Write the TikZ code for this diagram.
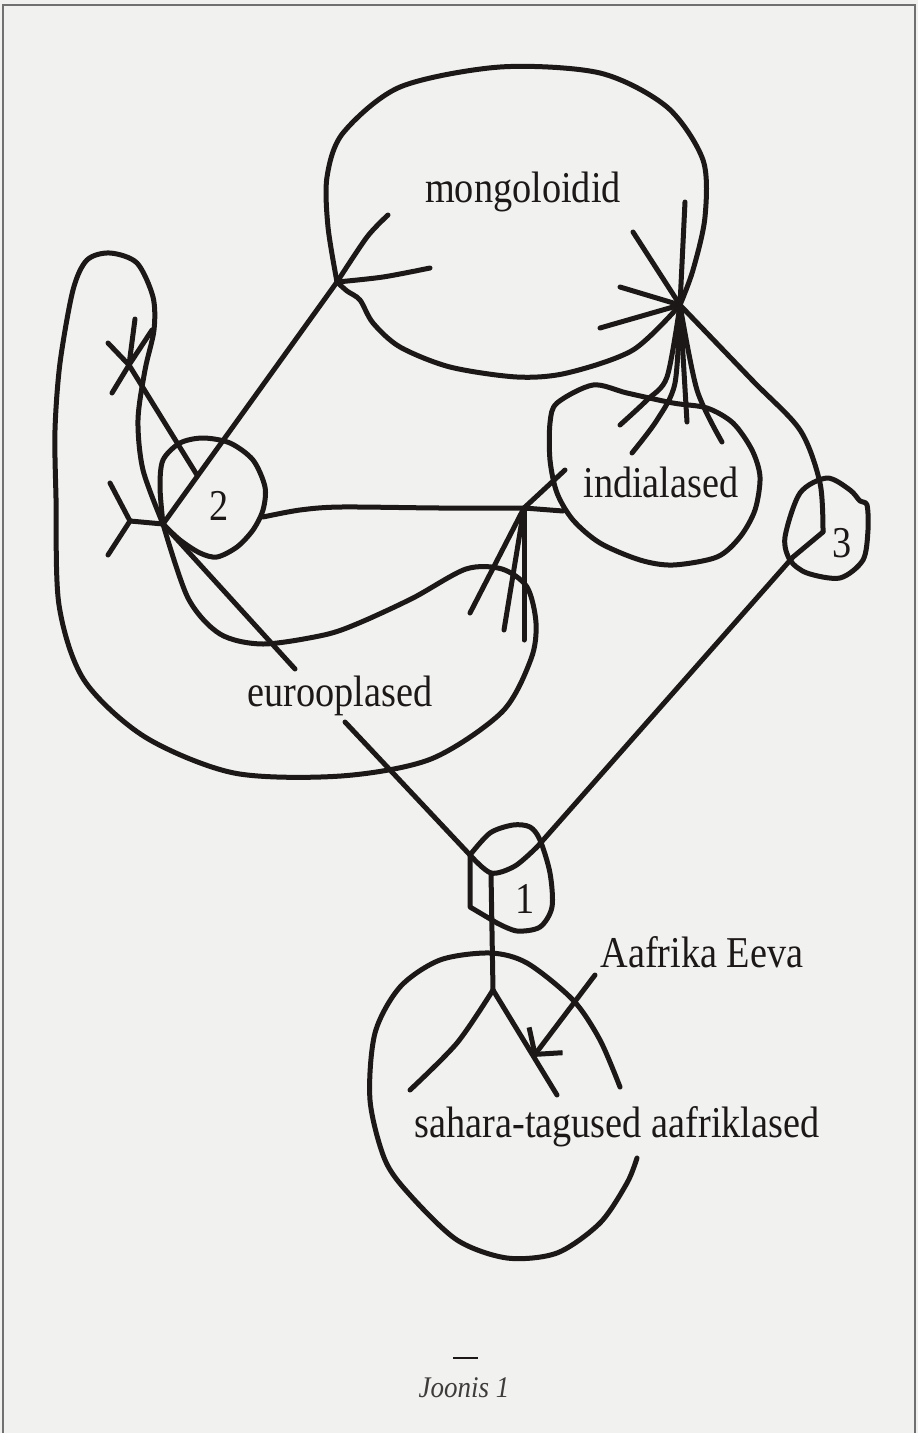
\documentclass[tikz,border=0pt]{standalone}
\usepackage{fontspec}
\setmainfont{Liberation Serif}
\usetikzlibrary{arrows.meta}
\definecolor{paper}{HTML}{F1F1EF}
\definecolor{ink}{HTML}{1C1818}
\definecolor{edge}{HTML}{707070}
\newcommand{\narrow}[1]{\scalebox{0.87}[1]{#1}}
\tikzset{
  stroke/.style={draw=ink, line width=5pt, line cap=round, line join=round},
  grouplabel/.style={anchor=base, inner sep=0pt, text=ink,
                     font=\fontsize{44}{48}\selectfont},
  captiontext/.style={anchor=base, inner sep=0pt, text=ink!85,
                      font=\itshape\fontsize{30}{34}\selectfont}
}

\begin{document}
\begin{tikzpicture}[x=1pt,y=-1pt]
  \fill[paper] (0,0) rectangle (918,1433);
  \useasboundingbox (0,0) rectangle (918,1433);
  \draw[edge,line width=2pt] (3,1433) -- (3,5) -- (915,5) -- (915,1433);

  % junctions
  \coordinate (mong) at (337,282);
  \coordinate (star) at (680,305);
  \coordinate (two) at (163,524);
  \coordinate (cross) at (129,365);
  \coordinate (forkY) at (130,521);
  \coordinate (ind) at (524,508);
  \coordinate (three) at (823,532);
  \coordinate (onecorner) at (470,855);
  \coordinate (one) at (491,873);
  \coordinate (fork) at (493,990);
  \coordinate (eurtail) at (345,722);
  \coordinate (eevatail) at (595,975);
  \coordinate (eevatip) at (533,1057);

  % labels
  \node[grouplabel] (mongtxt) at (523,202) {\narrow{mongoloidid}};
  \node[grouplabel] (indtxt) at (661,497) {\narrow{indialased}};
  \node[grouplabel] (eurtxt) at (340,706) {\narrow{eurooplased}};
  \node[grouplabel] (eevatxt) at (702,967) {\narrow{Aafrika Eeva}};
  \node[grouplabel] (afrtxt) at (617,1137) {\narrow{sahara-tagused aafriklased}};
  \node[grouplabel] (n1) at (525,913) {\narrow{1}};
  \node[grouplabel] (n2) at (219,520) {\narrow{2}};
  \node[grouplabel] (n3) at (842,557) {\narrow{3}};

  % mongoloidid loop
  \draw[stroke] plot[smooth] coordinates {(mong) (328,227) (327,177) (343,133) (400,87) (500,67) (600,73) (667,107) (703,160) (705,217) (693,270) (star)};
  \draw[stroke] plot[smooth] coordinates {(star) (633,350) (567,373) (517,377) (450,367) (400,347) (373,323) (360,300) (347,291) (mong)};
  \draw[stroke] plot[smooth] coordinates {(mong) (367,237) (388,215)};
  \draw[stroke] plot[smooth] coordinates {(mong) (383,277) (430,268)};
  \draw[stroke] (mong) -- (two);

  % star under mongoloidid
  \draw[stroke] (star) -- (685,202);
  \draw[stroke] (star) -- (633,232);
  \draw[stroke] (star) -- (620,287);
  \draw[stroke] (star) -- (600,328);
  \draw[stroke] plot[smooth] coordinates {(star) (667,377) (647,400) (620,425)};
  \draw[stroke] plot[smooth] coordinates {(star) (675,383) (657,420) (632,453)};
  \draw[stroke] (star) -- (687,422);
  \draw[stroke] plot[smooth] coordinates {(star) (697,390) (722,442)};
  \draw[stroke] plot[smooth] coordinates {(star) (752,380) (800,430) (820,483) (three)};
  \draw[stroke] (three) -- (793,557) -- (537,847);
  \draw[stroke] plot[smooth] coordinates {(537,847) (515,866) (one) (onecorner)};

  % indialased loop
  \draw[stroke] plot[smooth cycle] coordinates {(557,403) (593,385) (627,393) (673,403) (707,408) (733,423) (752,450) (760,477) (755,510) (740,537) (717,557) (673,565) (640,560) (600,543) (573,520) (557,493) (550,460) (550,423)};
  \draw[stroke] plot[smooth] coordinates {(263,517) (300,510) (341,507) (440,508) (ind)};
  \draw[stroke] (ind) -- (563,511);
  \draw[stroke] (ind) -- (565,470);
  \draw[stroke] (ind) -- (470,613);
  \draw[stroke] (ind) -- (504,630);
  \draw[stroke] (ind) -- (524,640);

  % node 3
  \draw[stroke] plot[smooth cycle] coordinates {(785,537) (800,493) (827,478) (850,490) (860,501) (867,505) (868,530) (863,560) (840,578) (807,573) (790,560)};

  % node 2 and the big left loop
  \draw[stroke] plot[smooth] coordinates {(two) (160,487) (163,460) (180,443) (203,438) (230,443) (253,460) (265,487) (263,510) (253,530) (237,547) (217,557) (200,553) (180,540) (two)};
  \draw[stroke] plot[smooth] coordinates {(two) (143,470) (138,420) (145,370) (154,330) (153,297) (137,263) (110,253) (87,260) (73,290) (60,363) (55,430) (56,498) (59,605) (84,680) (145,737) (234,773) (341,776) (431,759) (502,712) (531,659) (536,623) (527,587) (502,569) (466,569) (413,598) (359,623) (324,635) (263,644) (220,634) (188,598) (two)};
  \draw[stroke] (two) -- (295,669);
  \draw[stroke] (two) -- (forkY);
  \draw[stroke] (forkY) -- (110,483);
  \draw[stroke] (forkY) -- (108,555);
  \draw[stroke] (cross) -- (108,343);
  \draw[stroke] (cross) -- (135,319);
  \draw[stroke] (cross) -- (152,330);
  \draw[stroke] (cross) -- (112,393);
  \draw[stroke] (cross) -- (197,475);

  % node 1
  \draw[stroke] (eurtail) -- (onecorner);
  \draw[stroke] (onecorner) -- (470,907) -- (497,923);
  \draw[stroke] plot[smooth] coordinates {(497,923) (517,931) (540,927) (552,907) (550,873) (540,840) (530,827) (513,825) (490,833) (onecorner)};
  \draw[stroke] (one) -- (fork);
  \draw[stroke] plot[smooth] coordinates {(fork) (457,1043) (410,1090)};
  \draw[stroke] (fork) -- (557,1095);
  \draw[stroke,-{Straight Barb[length=18pt,width=42pt]}] (eevatail) -- (eevatip);

  % sahara loop
  \draw[stroke] plot[smooth] coordinates {(620,1087) (600,1040) (573,1000) (527,963) (490,953) (440,960) (400,987) (375,1033) (370,1100) (385,1160) (410,1195) (457,1240) (507,1258) (557,1253) (600,1223) (627,1183) (637,1158)};

  % caption
  \draw[ink,line width=1.5pt] (453,1358) -- (478,1358);
  \node[captiontext] (caption) at (464,1397) {\scalebox{0.9}[1]{Joonis 1}};
\end{tikzpicture}
\end{document}
